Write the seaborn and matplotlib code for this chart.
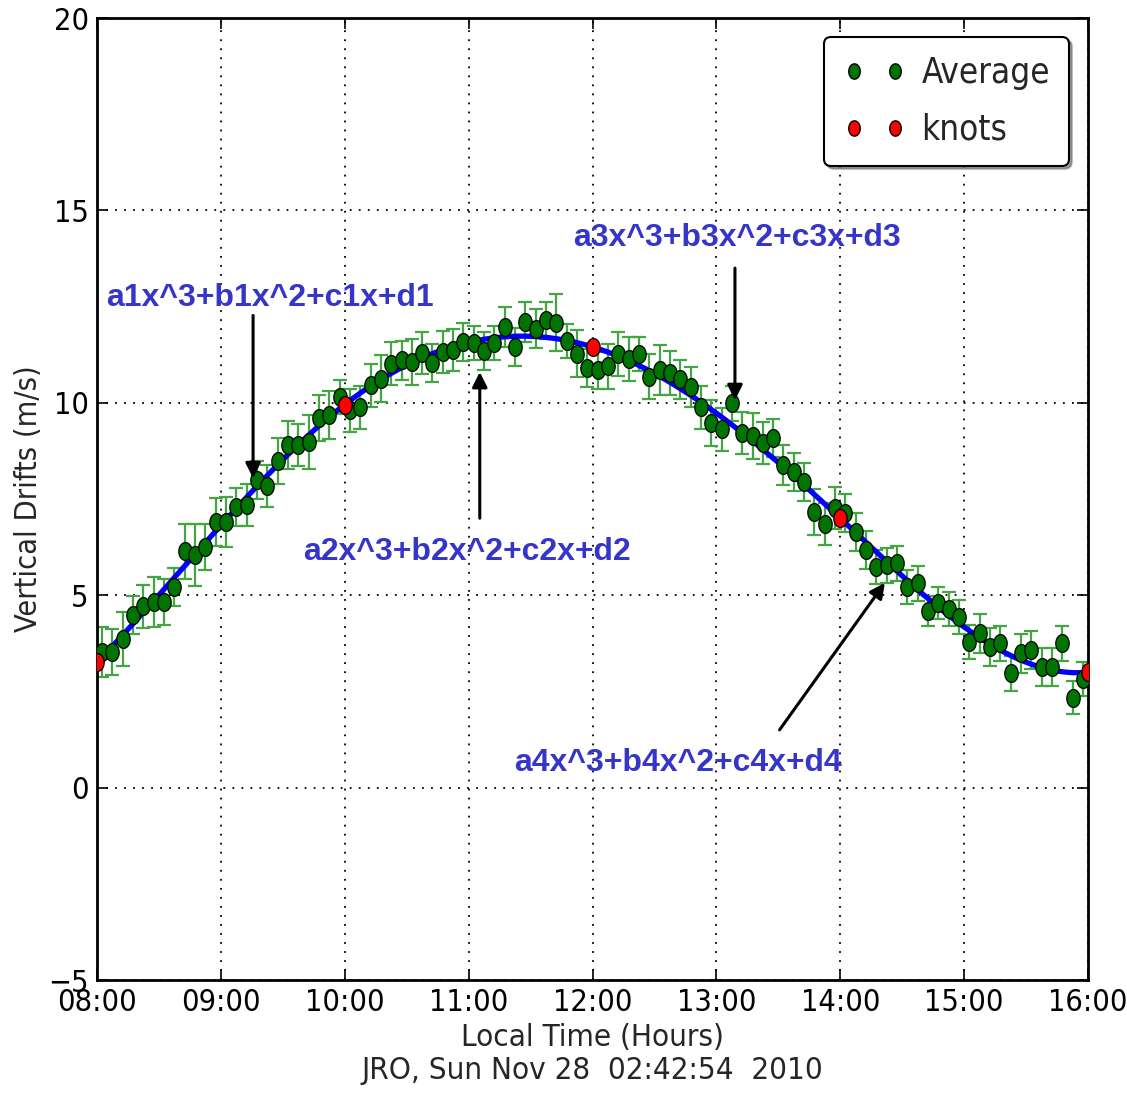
import numpy as np
import pandas as pd
import matplotlib
matplotlib.use("Agg")
import matplotlib.pyplot as plt
import seaborn as sns
from matplotlib import font_manager as fm
from matplotlib.lines import Line2D
from matplotlib.path import Path
from matplotlib.ticker import FuncFormatter

# ---------------- data ----------------
# 5-minute averages, centred on bins 08:02.5 ... 15:57.5 (hours)
time_min = [2.5 + 5 * k for k in range(96)]  # minutes after 08:00 (bin centres)
avg_drift = [3.52, 3.52, 3.86, 4.48, 4.71, 4.82, 4.82, 5.21, 6.14, 6.04,
             6.25, 6.90, 6.90, 7.29, 7.34, 7.99, 7.83, 8.48, 8.90, 8.90,
             8.98, 9.60, 9.68, 10.15, 9.80, 9.88, 10.45, 10.63, 11.02, 11.10,
             11.05, 11.29, 11.03, 11.32, 11.37, 11.58, 11.55, 11.34, 11.55, 11.97,
             11.45, 12.10, 11.93, 12.14, 12.08, 11.61, 11.27, 10.90, 10.84, 10.95,
             11.27, 11.14, 11.27, 10.68, 10.84, 10.77, 10.61, 10.40, 9.88, 9.47,
             9.31, 9.99, 9.21, 9.13, 8.95, 9.08, 8.38, 8.20, 7.94, 7.16,
             6.85, 7.26, 7.13, 6.64, 6.17, 5.73, 5.78, 5.83, 5.21, 5.31,
             4.59, 4.79, 4.64, 4.43, 3.78, 4.01, 3.65, 3.75, 2.97, 3.49,
             3.57, 3.13, 3.13, 3.75, 2.33, 2.82]
drift_err = [0.65, 0.60, 0.70, 0.50, 0.55, 0.65, 0.60, 0.50, 0.72, 0.80,
             0.60, 0.62, 0.65, 0.50, 0.55, 0.50, 0.55, 0.60, 0.62, 0.55,
             0.70, 0.60, 0.62, 0.45, 0.55, 0.55, 0.55, 0.60, 0.55, 0.50,
             0.60, 0.55, 0.50, 0.55, 0.55, 0.50, 0.45, 0.50, 0.45, 0.52,
             0.50, 0.52, 0.50, 0.47, 0.74, 0.45, 0.61, 0.50, 0.48, 0.58,
             0.57, 0.58, 0.45, 0.58, 0.65, 0.58, 0.50, 0.52, 0.55, 0.60,
             0.55, 0.45, 0.55, 0.60, 0.55, 0.50, 0.52, 0.50, 0.50, 0.60,
             0.55, 0.55, 0.50, 0.50, 0.50, 0.45, 0.45, 0.45, 0.45, 0.45,
             0.40, 0.42, 0.45, 0.45, 0.45, 0.50, 0.50, 0.45, 0.45, 0.50,
             0.50, 0.50, 0.50, 0.45, 0.43, 0.45]
knot_hours = [8, 10, 12, 14, 16]
hour_ticks = [8, 9, 10, 11, 12, 13, 14, 15, 16]
y_ticks = [-5, 0, 5, 10, 15, 20]
poly_labels = ["a1x^3+b1x^2+c1x+d1", "a2x^3+b2x^2+c2x+d2",
               "a3x^3+b3x^2+c3x+d3", "a4x^3+b4x^2+c4x+d4"]
label_pos = [(9.40, 12.72), (10.99, 6.12), (13.17, 14.28), (12.69, 0.64)]
arrow_from = [(9.26, 12.27), (11.09, 7.00), (13.15, 13.50), (13.51, 1.50)]
arrow_to = [(9.26, 8.04), (11.09, 10.80), (13.15, 10.07), (14.36, 5.32)]

hours = np.array([8 + m / 60.0 for m in time_min])
vals = np.array(avg_drift)

# least squares cubic spline with interior knots (truncated power basis)
def basis(x):
    x = np.asarray(x, dtype=float)
    cols = [np.ones_like(x), x - 8, (x - 8) ** 2, (x - 8) ** 3]
    for k in knot_hours[1:-1]:
        cols.append(np.clip(x - k, 0, None) ** 3)
    return np.vstack(cols).T

coef, *_ = np.linalg.lstsq(basis(hours), vals, rcond=None)
xf = np.linspace(8, 16, 600)
yf = basis(xf) @ coef
knot_vals = basis(knot_hours) @ coef

df_avg = pd.DataFrame({"hour": hours, "drift": vals, "err": drift_err})
df_fit = pd.DataFrame({"hour": xf, "drift": yf})
df_knot = pd.DataFrame({"hour": knot_hours, "drift": knot_vals})

# ---------------- style ----------------
sns.set_style("ticks")
names = {f.name for f in fm.fontManager.ttflist}
narrow = "Liberation Sans Narrow" if "Liberation Sans Narrow" in names else "DejaVu Sans"
plt.rcParams["font.family"] = [narrow, "DejaVu Sans"]
plt.rcParams["font.stretch"] = "condensed"
plt.rcParams["axes.unicode_minus"] = True

W, H = 1127, 1093
fig = plt.figure(figsize=(W / 100, H / 100), dpi=100)
ax = fig.add_axes([97 / W, (H - 980) / H, (1088 - 97) / W, (980 - 18) / H])

# ellipse marker (squeezed circle)
t = np.linspace(0, 2 * np.pi, 60)
ell = Path(np.column_stack([0.75 * np.cos(t), np.sin(t)]), closed=True)

ax.errorbar(df_avg["hour"], df_avg["drift"], yerr=df_avg["err"], fmt="none",
            ecolor="#45a545", elinewidth=1.6, capsize=5.2, capthick=1.6, zorder=2)
sns.lineplot(data=df_fit, x="hour", y="drift", color="#0000ff", linewidth=3.8,
             ax=ax, zorder=3, legend=False)
sns.scatterplot(data=df_avg, x="hour", y="drift", marker=ell, s=165,
                color="#007400", edgecolor="black", linewidth=0.9, ax=ax, zorder=4,
                legend=False)
sns.scatterplot(data=df_knot, x="hour", y="drift", marker=ell, s=165,
                color="#ff0000", edgecolor="black", linewidth=0.9, ax=ax, zorder=5,
                legend=False)

ax.set_xlim(8, 16)
ax.set_ylim(-5, 20)
ax.set_xticks(hour_ticks)
ax.set_yticks(y_ticks)
ax.xaxis.set_major_formatter(FuncFormatter(lambda v, p: "%02d:00" % int(round(v))))
ax.yaxis.set_major_formatter(FuncFormatter(lambda v, p: ("\u2212%d" % abs(v)) if v < 0 else "%d" % v))
ax.tick_params(direction="in", length=8, width=1.2, top=True, right=True,
               labelsize=22, pad=6, colors="black")
ax.grid(True, color="black", linestyle=(0, (1, 4)), linewidth=1.3)
for s in ax.spines.values():
    s.set_linewidth(2)
    s.set_color("black")

ax.set_xlabel("Local Time (Hours)\nJRO, Sun Nov 28  02:42:54  2010", fontsize=22.5,
              linespacing=1.2, labelpad=4)
ax.set_ylabel("Vertical Drifts (m/s)", fontsize=22, labelpad=4)

handles = [Line2D([0], [0], marker=ell, linestyle="none", markersize=11,
                  markerfacecolor="#007400", markeredgecolor="black"),
           Line2D([0], [0], marker=ell, linestyle="none", markersize=11,
                  markerfacecolor="#ff0000", markeredgecolor="black")]
leg = ax.legend(handles, ["Average", "knots"], loc="upper right", numpoints=2,
                fontsize=25, fancybox=True, shadow=True, frameon=True,
                borderaxespad=0.55, handlelength=1.8, handletextpad=0.45,
                labelspacing=0.65, borderpad=0.55)
leg.get_frame().set_edgecolor("black")
leg.get_frame().set_linewidth(1.5)
leg.get_frame().set_alpha(1)

for txt, (tx, ty) in zip(poly_labels, label_pos):
    ax.text(tx, ty, txt, ha="center", va="center", fontsize=23, fontweight="bold",
            color="#3535c8", family=["Liberation Sans", "DejaVu Sans"],
            fontstretch="normal", zorder=6)
for (sx, sy), (ex, ey) in zip(arrow_from, arrow_to):
    ax.annotate("", xy=(ex, ey), xytext=(sx, sy),
                arrowprops=dict(arrowstyle="-|>,head_length=0.9,head_width=0.45",
                                color="black", lw=2.2, shrinkA=0, shrinkB=0),
                zorder=6)

fig.savefig("out.png", dpi=100)
